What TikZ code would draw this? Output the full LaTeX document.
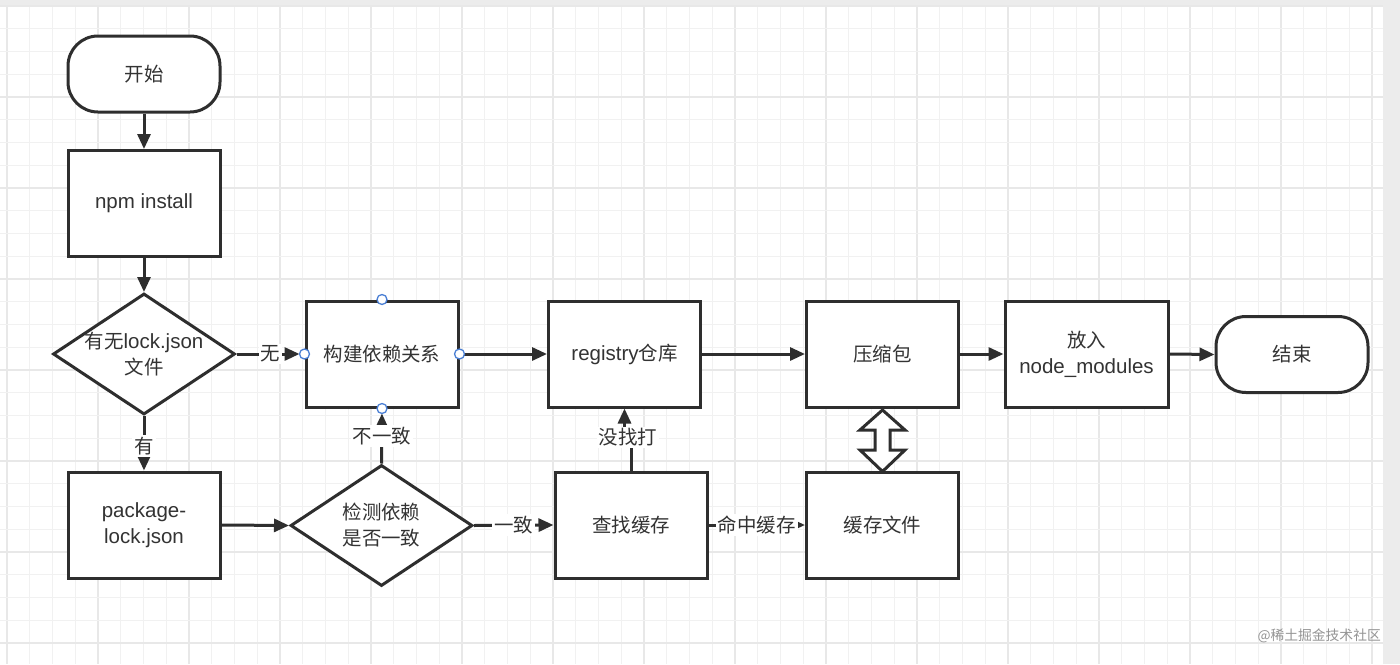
\documentclass[tikz,border=0pt]{standalone}
\usepackage{fontspec}
\setmainfont{Liberation Sans}
\newfontfamily\cjk[Scale=0.95]{Noto Sans CJK SC}
\usetikzlibrary{arrows.meta,shapes.geometric,calc}
\definecolor{ink}{HTML}{2E2E2E}
\definecolor{txtc}{HTML}{333333}
\definecolor{handle}{HTML}{4A7FD4}
\definecolor{gridminor}{HTML}{F1F1F1}
\definecolor{gridmajor}{HTML}{E8E8E8}
\definecolor{barcol}{HTML}{ECECEC}
\newcommand\fs{\fontsize{20.5}{26}\selectfont}
\begin{document}
\begin{tikzpicture}[x=1pt,y=-1pt,
  box/.style={draw=ink,line width=3pt,fill=white,minimum width=152pt,minimum height=106pt,inner sep=0pt,align=center,font=\fs,text=txtc},
  term/.style={box,minimum height=76pt,rounded corners=30pt},
  dia/.style={diamond,draw=ink,line width=3pt,fill=white,minimum width=182pt,minimum height=121pt,inner sep=0pt},
  txt/.style={align=center,font=\fs,text=txtc,inner sep=0pt},
  arr/.style={draw=ink,line width=3pt,-{Triangle[length=15pt,width=13pt]}},
  lab/.style={fill=white,inner sep=2pt,font=\fs\cjk,text=txtc},
  hdl/.style={circle,draw=handle,fill=white,line width=1.3pt,minimum size=10pt,inner sep=0pt},
  minorgrid/.style={draw=gridminor,line width=1.1pt},
  majorgrid/.style={draw=gridmajor,line width=1.3pt},
  blockarr/.style={draw=ink,fill=white,line width=3pt,line join=miter}
]
\useasboundingbox (0,0) rectangle (1400,664);
\fill[white] (0,0) rectangle (1400,664);
\foreach \k in {0,...,60} \draw[minorgrid] ({7+22.75*\k},5) -- ({7+22.75*\k},664);
\foreach \k in {0,...,15} \draw[majorgrid] ({7+91*\k},5) -- ({7+91*\k},664);
\foreach \k in {0,...,28} \draw[minorgrid] (0,{6+22.75*\k}) -- (1383,{6+22.75*\k});
\foreach \k in {0,...,7} \draw[majorgrid] (0,{6+91*\k}) -- (1383,{6+91*\k});
\fill[barcol] (0,0) rectangle (1400,5);
\fill[barcol] (1383,0) rectangle (1400,664);

% nodes
\node[term] (start) at (144,74) {\cjk 开始};
\node[box] (npm) at (144,203.5) {npm install};
\node[dia] (lock) at (144,354) {};
\node[txt] (locktxt) at (144,354) {{\cjk 有无}lock.json\\[0pt]{\cjk 文件}};
\node[box] (pkg) at (144,525) {package-\\[0pt]lock.json};
\node[dia] (check) at (381.5,525.5) {};
\node[txt] (checktxt) at (381.5,525.5) {\cjk 检测依赖\\[0pt]\cjk 是否一致};
\node[box] (build) at (382,354) {\cjk 构建依赖关系};
\node[box] (reg) at (624.5,354) {registry{\cjk 仓库}};
\node[box] (find) at (631,525) {\cjk 查找缓存};
\node[box] (zip) at (882.5,354) {\cjk 压缩包};
\node[box] (cache) at (882.5,525) {\cjk 缓存文件};
\node[box,minimum width=163pt] (put) at (1086.5,354) {{\cjk 放入}\\[0pt]node\_modules};
\node[term] (end) at (1292,354.5) {\cjk 结束};

% connectors
\draw[arr] (start) -- (npm);
\draw[arr] (npm) -- (lock);
\draw[arr,shorten >=5pt] (lock.east) -- node[lab] (lno) {无} (build.west);
\draw[arr] (lock.south) -- node[lab,pos=0.55] (lyes) {有} (pkg.north);
\draw[arr] (pkg.east) -- (check.west);
\draw[arr,shorten >=5pt] (check.north) -- node[lab] (ldiff) {不一致} (build.south);
\draw[arr] (check.east) -- node[lab] (lsame) {一致} (find.west);
\coordinate (jog) at ($(find.north)+(0,-33)$);
\draw[arr] (find.north) -- (jog) -| (reg.south);
\node[lab] (lmiss) at ($(jog)+(-3,0)$) {没找打};
\draw[arr] (find.east) -- node[lab] (lhit) {命中缓存} (cache.west);
\draw[arr] (build.east) -- (reg.west);
\draw[arr] (reg.east) -- (zip.west);
\draw[arr] (zip.east) -- (put.west);
\draw[arr] (put.east) -- (end.west);

% double block arrow
\draw[blockarr] ($(zip.south)+(0,1.5)$) -- ++(22.5,20) -- ++(-15,0) -- ++(0,20) -- ++(15,0)
  -- ++(-22.5,21.5) -- ++(-22.5,-21.5) -- ++(15,0) -- ++(0,-20) -- ++(-15,0) -- cycle;

% selection handles
\node[hdl] (h1) at (build.north) {};
\node[hdl] (h2) at (build.west) {};
\node[hdl] (h3) at (build.east) {};
\node[hdl] (h4) at (build.south) {};

% watermark
\node[font=\fontsize{14.5}{16}\selectfont\cjk,text=black!42,anchor=east,inner sep=0pt] (wm) at (1381,636) {@稀土掘金技术社区};
\end{tikzpicture}
\end{document}
